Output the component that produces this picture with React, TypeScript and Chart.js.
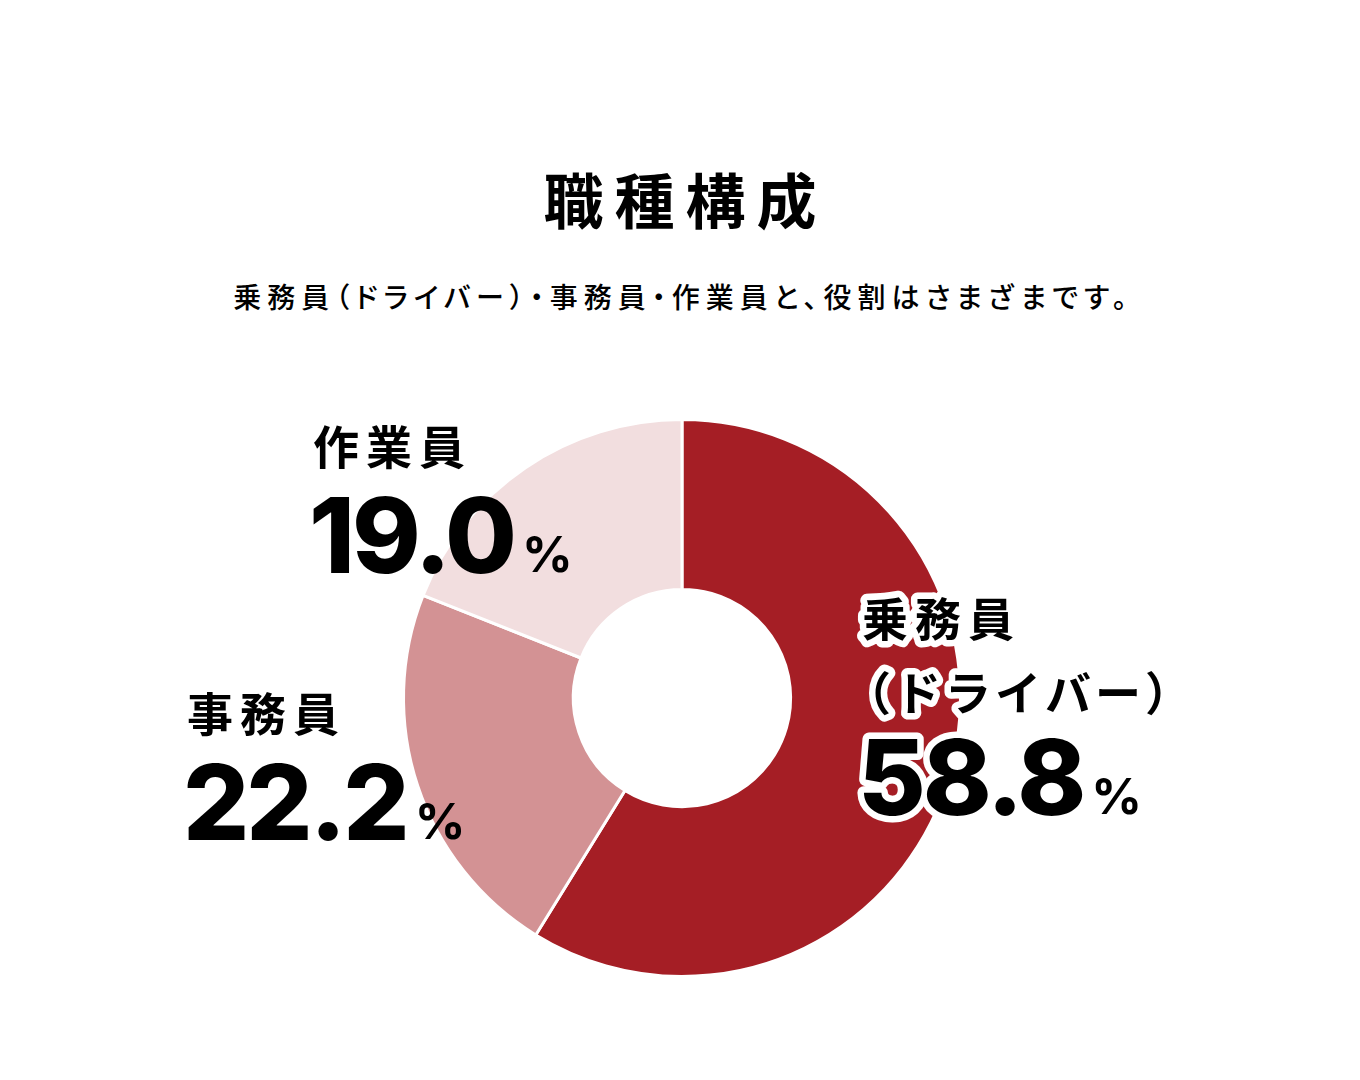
import { useEffect, useRef } from 'react';
import { Chart, registerables } from 'chart.js';

Chart.register(...registerables);

const categories = ['乗務員（ドライバー）', '事務員', '作業員'];
const shares = [58.8, 22.2, 19.0];
const sliceColors = ['#A51E25', '#D39294', '#F2DEDF'];
const labelLines = [['乗務員', '（ドライバー）'], ['事務員'], ['作業員']];

const JP = '"Noto Sans CJK JP", "Noto Sans", sans-serif';
const NUM = 'Inter, "Noto Sans", sans-serif';

// label anchor offsets from the doughnut centre
const labelPos = [
  { dx: 180, nameDy: -79, lineGap: 74, numDy: 117, halo: true },
  { dx: -495, nameDy: 16, lineGap: 0, numDy: 142, halo: false },
  { dx: -369, nameDy: -251, lineGap: 0, numDy: -125, halo: false },
];

const sliceLabels = {
  id: 'sliceLabels',
  afterDatasetsDraw(chart: Chart) {
    const arc = chart.getDatasetMeta(0).data[0] as any;
    if (!arc) return;
    const { x: cx, y: cy } = arc;
    const ctx = chart.ctx as any;
    ctx.save();
    ctx.lineJoin = 'round';
    ctx.textAlign = 'left';

    shares.forEach((v, i) => {
      const p = labelPos[i];
      const x = cx + p.dx;
      const draw = (text: string, tx: number, ty: number, font: string, spacing: string, base: string) => {
        ctx.font = font;
        ctx.letterSpacing = spacing;
        ctx.textBaseline = base;
        if (p.halo) {
          ctx.strokeStyle = '#fff';
          ctx.lineWidth = 13;
          ctx.strokeText(text, tx, ty);
        }
        ctx.fillStyle = '#000';
        ctx.fillText(text, tx, ty);
        return ctx.measureText(text).width;
      };

      labelLines[i].forEach((line, j) => {
        const paren = line.startsWith('（');
        draw(line, paren ? x - 17 : x, cy + p.nameDy + j * p.lineGap,
          `700 46px ${JP}`, paren ? '4px' : '7px', 'middle');
      });

      const num = v.toFixed(1);
      const w = draw(num, x - 4, cy + p.numDy, `800 104px ${NUM}`, '-3px', 'alphabetic');
      draw('%', x - 4 + w + 8, cy + p.numDy - 1, `700 50px ${NUM}`, '0px', 'alphabetic');
    });
    ctx.restore();
  },
};

export default function App() {
  const canvasRef = useRef<HTMLCanvasElement>(null);
  const chartRef = useRef<Chart | null>(null);

  useEffect(() => {
    document.body.style.margin = '0';
    if (!canvasRef.current) return;
    if (chartRef.current) chartRef.current.destroy();

    chartRef.current = new Chart(canvasRef.current, {
      type: 'doughnut',
      data: {
        labels: categories,
        datasets: [
          {
            data: shares,
            backgroundColor: sliceColors,
            borderColor: '#fff',
            borderWidth: 3,
          },
        ],
      },
      options: {
        responsive: true,
        maintainAspectRatio: false,
        animation: false,
        cutout: '39%',
        layout: { padding: { top: 418, bottom: 102, left: 402, right: 398 } },
        plugins: {
          legend: { display: false },
          tooltip: { enabled: false },
        },
      },
      plugins: [sliceLabels as any],
    });

    return () => { chartRef.current?.destroy(); };
  }, []);

  return (
    <div style={{ position: 'relative', width: 1360, height: 1080, background: '#fff' }}>
      <div style={{
        position: 'absolute', top: 158, left: 0, width: 1360, textAlign: 'center',
        fontFamily: JP, fontWeight: 700, fontSize: 60, letterSpacing: 11, lineHeight: '80px',
        paddingLeft: 11, boxSizing: 'border-box', color: '#000',
      }}>
        職種構成
      </div>
      <div style={{
        position: 'absolute', top: 276, left: 0, width: 1360, textAlign: 'center',
        fontFamily: JP, fontWeight: 500, fontSize: 28, letterSpacing: 6, lineHeight: '40px', color: '#000',
        fontFeatureSettings: '"palt"', paddingLeft: 6, boxSizing: 'border-box',
      }}>
        乗務員（ドライバー）・事務員・作業員と、役割はさまざまです。
      </div>
      <div style={{ position: 'absolute', inset: 0 }}>
        <canvas ref={canvasRef} />
      </div>
    </div>
  );
}
